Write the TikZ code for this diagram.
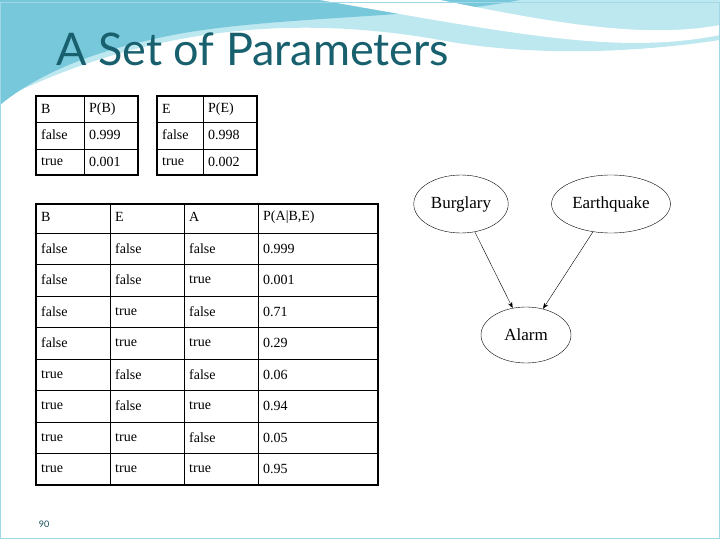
\documentclass[tikz,border=0pt]{standalone}
\usepackage{fontspec}
\setmainfont{Liberation Serif}
\newfontfamily\titlefont{Lato}
\usetikzlibrary{shapes.geometric,arrows.meta}
\definecolor{titleteal}{RGB}{24,96,110}
\definecolor{waveblue}{RGB}{120,200,220}
\definecolor{wavelight}{RGB}{190,232,240}
\tikzset{
  cell/.style={anchor=west,font=\fontsize{14}{16}\selectfont,inner sep=0pt},
  var/.style={draw,ellipse,thin,font=\fontsize{17}{19}\selectfont},
  outer/.style={line width=1.6pt},
  inner/.style={line width=0.8pt}
}
\begin{document}
\begin{tikzpicture}[x=1pt,y=-1pt]
\useasboundingbox (0,0) rectangle (720,540);
% background wave
\fill[wavelight] (0,0) -- (720,0) -- (720,40) .. controls (620,55) and (520,55) .. (440,40)
  .. controls (300,15) and (150,25) .. (0,100) -- cycle;
\fill[waveblue] (0,0) -- (520,0) .. controls (420,20) and (250,15) .. (150,40)
  .. controls (80,55) and (30,80) .. (0,105) -- cycle;
\fill[white] (320,0) -- (440,0) .. controls (540,20) and (640,40) .. (720,25) -- (720,35)
  .. controls (620,55) and (520,35) .. (320,0) -- cycle;
\draw[waveblue!70!white,thin] (0,2) rectangle (719,538);
% title
\node[anchor=base west,text=titleteal,font=\titlefont\fontsize{45}{50}\selectfont,inner sep=0pt] (title) at (56,66) {A Set of Parameters};
% table P(B)
\draw[inner] (84,96) -- (84,175) (36,122) -- (138,122) (36,149) -- (138,149);
\draw[outer] (36,96) rectangle (138,175);
\node[cell] (b1) at (41,109) {B};   \node[cell] (b2) at (89,109) {P(B)};
\node[cell] (b3) at (41,135) {false}; \node[cell] (b4) at (89,135) {0.999};
\node[cell] (b5) at (41,162) {true};  \node[cell] (b6) at (89,162) {0.001};
% table P(E)
\draw[inner] (203,96) -- (203,175) (157,122) -- (257,122) (157,149) -- (257,149);
\draw[outer] (157,96) rectangle (257,175);
\node[cell] (e1) at (162,109) {E};   \node[cell] (e2) at (208,109) {P(E)};
\node[cell] (e3) at (162,135) {false}; \node[cell] (e4) at (208,135) {0.998};
\node[cell] (e5) at (162,162) {true};  \node[cell] (e6) at (208,162) {0.002};
% table P(A|B,E)
\foreach \x in {110,184,258} \draw[inner] (\x,204) -- (\x,485);
\foreach \y in {233,264.5,296,327.5,359,390.5,422,453.5} \draw[inner] (36,\y) -- (378,\y);
\draw[outer] (36,204) rectangle (378,485);
\node[cell] (h1) at (41,217) {B}; \node[cell] (h2) at (115,217) {E};
\node[cell] (h3) at (189,217) {A}; \node[cell] (h4) at (263,217) {P(A|B,E)};
\foreach \b/\e/\a/\p [count=\i] in {false/false/false/0.999, false/false/true/0.001,
    false/true/false/0.71, false/true/true/0.29, true/false/false/0.06,
    true/false/true/0.94, true/true/false/0.05, true/true/true/0.95}{
  \pgfmathsetmacro\yy{217+31.5*\i}
  \node[cell] (r\i b) at (41,\yy) {\b};
  \node[cell] (r\i e) at (115,\yy) {\e};
  \node[cell] (r\i a) at (189,\yy) {\a};
  \node[cell] (r\i p) at (263,\yy) {\p};
}
% network
\node[var,minimum width=86pt,minimum height=58pt] (burglary) at (461,204) {Burglary};
\node[var,minimum width=94pt,minimum height=58pt] (earthquake) at (611,204) {Earthquake};
\node[var,minimum width=90pt,minimum height=56pt] (alarm) at (526,335) {Alarm};
\draw[-{Stealth[length=6pt]}] (burglary) -- (alarm);
\draw[-{Stealth[length=6pt]}] (earthquake) -- (alarm);
% page number
\node[text=titleteal!80!black,font=\titlefont\fontsize{9}{10}\selectfont] (page) at (44,524) {90};
\end{tikzpicture}
\end{document}
